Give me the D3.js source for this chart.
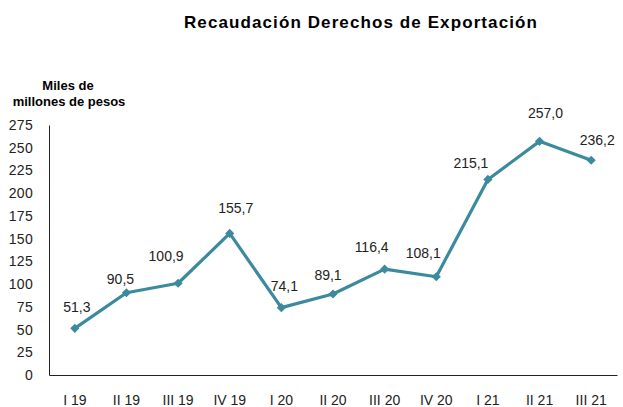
<!DOCTYPE html>
<html>
<head>
<meta charset="utf-8">
<script src="https://cdn.jsdelivr.net/npm/d3@7"></script>
<style>
body{margin:0;background:#fff;}
text{font-family:"Liberation Sans",Arial,sans-serif;}
</style>
</head>
<body>
<div id="chart"></div>
<script>
// data
var quarters = ["I 19","II 19","III 19","IV 19","I 20","II 20","III 20","IV 20","I 21","II 21","III 21"];
var values = [51.3,90.5,100.9,155.7,74.1,89.1,116.4,108.1,215.1,257.0,236.2];
var yTicks = [0,25,50,75,100,125,150,175,200,225,250,275];

var w = 623, h = 407;
var margin = {top:125, right:6, bottom:32, left:49};
var lineColor = "#3b8a9e";

var svg = d3.select("#chart")
            .append("svg")
            .attr("width",w)
            .attr("height",h);

var x = d3.scaleBand()
          .domain(quarters)
          .range([margin.left, w-margin.right]);

var y = d3.scaleLinear()
          .domain([0,275])
          .range([h-margin.bottom, margin.top]);

// title
svg.append("text")
   .attr("x",361).attr("y",28)
   .attr("text-anchor","middle")
   .attr("font-size",17).attr("font-weight","bold")
   .attr("letter-spacing","1.1")
   .text("Recaudación Derechos de Exportación");

// axis title
svg.append("text")
   .attr("x",68).attr("y",90)
   .attr("text-anchor","middle")
   .attr("font-size",13).attr("font-weight","bold")
   .text("Miles de");
svg.append("text")
   .attr("x",69).attr("y",106)
   .attr("text-anchor","middle")
   .attr("font-size",13).attr("font-weight","bold")
   .text("millones de pesos");

// y axis
var yAxis = svg.append("g")
   .attr("transform","translate("+margin.left+",0)")
   .call(d3.axisLeft(y).tickValues(yTicks).tickSize(0).tickPadding(16));
yAxis.select(".domain").attr("stroke","#222");
yAxis.selectAll("text").attr("font-size",14).attr("fill","#222")
   .attr("letter-spacing","0.3")
   .attr("font-family","Liberation Sans, Arial, sans-serif");

// x axis
var xAxis = svg.append("g")
   .attr("transform","translate(0,"+(h-margin.bottom)+")")
   .call(d3.axisBottom(x).tickSize(0).tickPadding(20));
xAxis.select(".domain").attr("stroke","#222");
xAxis.selectAll("text").attr("font-size",14).attr("fill","#222")
   .attr("font-family","Liberation Sans, Arial, sans-serif");

var cx = function(d,i){ return x(quarters[i]) + x.bandwidth()/2; };

// line
var line = d3.line()
   .x(function(d,i){ return cx(d,i); })
   .y(function(d){ return y(d); });

svg.append("path")
   .datum(values)
   .attr("fill","none")
   .attr("stroke",lineColor)
   .attr("stroke-width",3.2)
   .attr("stroke-linejoin","round")
   .attr("d",line);

// markers (square turned 45deg, like excel diamonds)
svg.selectAll(".marker")
   .data(values)
   .enter()
   .append("path")
   .attr("class","marker")
   .attr("d",d3.symbol().type(d3.symbolSquare).size(42))
   .attr("fill",lineColor)
   .attr("transform",function(d,i){ return "translate("+cx(d,i)+","+y(d)+") rotate(45)"; });

// labels (hand-placed offsets like the original)
var ldx = [2,-6,-12,6,3,-5,-13,-13,-17,6,6];
var ldy = [-21,-14,-27,-25,-22,-19,-22,-24,-16,-28,-20];
svg.selectAll(".lbl")
   .data(values)
   .enter()
   .append("text")
   .attr("class","lbl")
   .attr("x",function(d,i){ return cx(d,i) + ldx[i]; })
   .attr("y",function(d,i){ return y(d) + ldy[i]; })
   .attr("dy","0.35em")
   .attr("text-anchor","middle")
   .attr("font-size",14)
   .attr("fill","#222")
   .text(function(d){ return d.toFixed(1).replace(".",","); });
</script>
</body>
</html>
